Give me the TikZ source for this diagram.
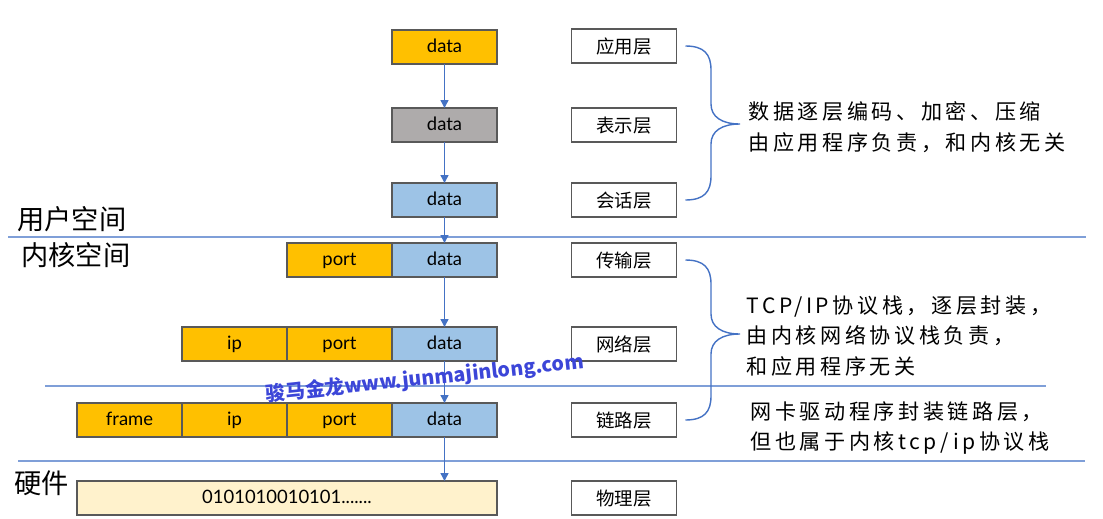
\documentclass[tikz,border=0pt]{standalone}
\usepackage{fontspec}
\setmainfont{Lato}
\newfontfamily\cjk{Noto Sans CJK SC}
\newfontfamily\cjkwide[LetterSpace=17]{Noto Sans CJK SC}
\usepackage{xcolor}
\definecolor{hdrgold}{HTML}{FFC000}
\definecolor{presgrey}{HTML}{AEABAB}
\definecolor{paybl}{HTML}{9DC3E6}
\definecolor{phycream}{HTML}{FFF2CC}
\definecolor{boxline}{HTML}{595959}
\definecolor{arrblue}{HTML}{4472C4}
\definecolor{sepblue}{HTML}{7F9FD8}
\definecolor{wmblue}{HTML}{3C46D8}
\usepackage{tikz}
\usetikzlibrary{arrows.meta,positioning,calc}

\begin{document}
\begin{tikzpicture}[x=0.02cm, y=-0.02cm,
    cell/.style={rectangle, draw=boxline, line width=1pt, minimum width=2.1cm, minimum height=0.68cm, inner sep=0pt, outer sep=0pt, text height=1.5ex, text depth=.3ex, font=\fontsize{10.5}{12}\selectfont, text=black},
    hdr/.style={cell, fill=hdrgold},
    pay/.style={cell, fill=paybl},
    lab/.style={cell, fill=white, text height=2ex, text depth=.4ex, font=\cjk\fontsize{10.5}{12}\selectfont},
    arr/.style={draw=arrblue, line width=0.8pt, -{Triangle[width=4.5pt,length=4.5pt]}},
    brc/.style={draw=arrblue, line width=0.8pt},
    sep/.style={draw=sepblue, line width=0.7pt},
    note/.style={anchor=west, align=left, inner sep=0pt, font=\cjkwide\fontsize{12}{17.6}\selectfont},
    space/.style={anchor=west, inner sep=0pt, font=\cjk\fontsize{15.5}{18}\selectfont},
  ]
    \useasboundingbox (0,0) rectangle (1103,518);
    % Separators
    \draw[sep] (8,237) -- (1086,237);
    \draw[sep] (45,386) -- (1046,386);
    \draw[sep] (18,461) -- (1085,461);
    % Data column
    \node[hdr] (d1) at (444.5,47) {data};
    \node[cell, fill=presgrey] (d2) at (444.5,125) {data};
    \node[pay] (d3) at (444.5,200) {data};
    \node[pay] (d4) at (444.5,260) {data};
    \node[pay] (d5) at (444.5,344) {data};
    \node[pay] (d6) at (444.5,420) {data};
    \node[hdr] (tport) at (339.5,260) {port};
    \node[hdr] (nport) at (339.5,344) {port};
    \node[hdr] (nip) at (234.5,344) {ip};
    \node[hdr] (lport) at (339.5,420) {port};
    \node[hdr] (lip) at (234.5,420) {ip};
    \node[hdr] (lframe) at (129.5,420) {frame};
    \node[cell, fill=phycream, minimum width=8.4cm] (bits) at (287,498) {0101010010101.......};
    \foreach \a/\b in {d1/d2,d2/d3,d3/d4,d4/d5,d5/d6,d6/bits}
      \draw[arr] (\a.south) -- (\a.south |- \b.north);
    % Layers
    \node[lab] (app) at (624,46) {应用层};
    \node[lab] (pres) at (624,125) {表示层};
    \node[lab] (ses) at (624,200) {会话层};
    \node[lab] (trans) at (624,260) {传输层};
    \node[lab] (net) at (624,344) {网络层};
    \node[lab] (link) at (624,420) {链路层};
    \node[lab] (phy) at (624,498) {物理层};
    % Braces
    \coordinate (t1) at (740,124);
    \coordinate (t2) at (740,334);
    \draw[brc] ([xshift=0.18cm]app.east) .. controls (704,46) and (711,54) .. (711,70) -- (711,104)
      .. controls (711,117) and (722,124) .. (t1) .. controls (722,124) and (711,131) .. (711,144)
      -- (711,176) .. controls (711,192) and (704,200) .. ([xshift=0.18cm]ses.east);
    \draw[brc] ([xshift=0.18cm]trans.east) .. controls (704,260) and (711,268) .. (711,284) -- (711,314)
      .. controls (711,327) and (722,334) .. (t2) .. controls (722,334) and (711,341) .. (711,354)
      -- (711,396) .. controls (711,412) and (704,420) .. ([xshift=0.18cm]link.east);
    % Notes
    \node[note] (n1) at (748,127) {数据逐层编码、加密、压缩\\由应用程序负责，和内核无关};
    \node[note] (n2) at (746,336) {TCP/IP协议栈，逐层封装，\\由内核网络协议栈负责，\\和应用程序无关};
    \node[note] (n3) at (750,428) {网卡驱动程序封装链路层，\\但也属于内核tcp/ip协议栈};
    \node[space] (user) at (17,219) {用户空间};
    \node[space] (kern) at (21,255) {内核空间};
    \node[space] (hw) at (14,483) {硬件};
    % Watermark
    \node[rotate=6, inner sep=0pt, text=wmblue, font=\cjk\bfseries\fontsize{11.2}{13}\selectfont] (wm) at (425,379) {骏马金龙www.junmajinlong.com};
  \end{tikzpicture}
\end{document}
